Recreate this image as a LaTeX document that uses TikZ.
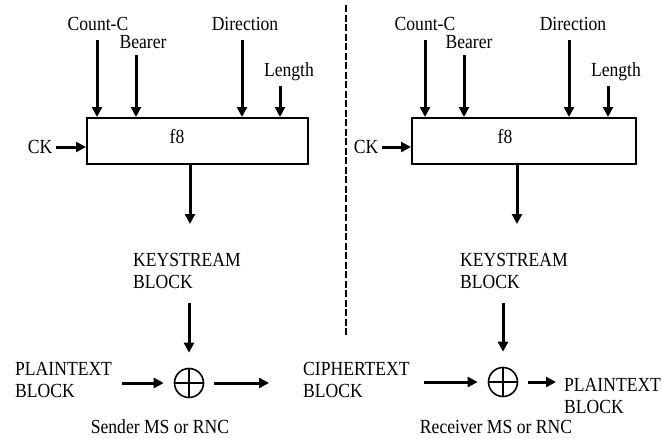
\documentclass[tikz,border=0pt]{standalone}
\usepackage{fontspec}
\setmainfont{Liberation Serif}[FakeStretch=0.88]
\usetikzlibrary{arrows.meta}

\tikzset{
  flow/.style={line width=3pt,-{Triangle[length=10pt,width=10pt]}},
  lbl/.style={inner sep=0pt,align=left},
  fbox/.style={draw,line width=1.6pt,inner sep=0pt,minimum height=46pt,anchor=north west},
  xorop/.style={draw,circle,line width=1.6pt,minimum size=29pt,inner sep=0pt,
    path picture={\draw[line width=1.6pt] (path picture bounding box.north) -- (path picture bounding box.south)
      (path picture bounding box.west) -- (path picture bounding box.east);}}
}

\begin{document}
\begin{tikzpicture}[x=1pt,y=-1pt,font=\fontsize{20}{22}\selectfont]
  \useasboundingbox (0,0) rectangle (662,439);

  % sender side
  \node[fbox,minimum width=221pt] (f8a) at (86,117) {};
  \node[lbl] (f8atxt) at (177,137) {f8};
  \node[lbl] (cca) at (98,24) {Count-C};
  \node[lbl] (bra) at (143,42) {Bearer};
  \node[lbl] (dira) at (245,24) {Direction};
  \node[lbl] (lena) at (289,72) {Length};
  \node[lbl] (cka) at (40,147) {CK};
  \coordinate (ccain) at (97,40);
  \coordinate (brain) at (136,55);
  \coordinate (dirain) at (242,40);
  \coordinate (lenain) at (280,86);
  \draw[flow] (ccain) -- (ccain |- f8a.north);
  \draw[flow] (brain) -- (brain |- f8a.north);
  \draw[flow] (dirain) -- (dirain |- f8a.north);
  \draw[flow] (lenain) -- (lenain |- f8a.north);
  \draw[flow,shorten <=4pt] (cka.east) -- (cka -| f8a.west);
  \coordinate (outa) at (190,163);
  \coordinate (ksatop) at (190,224);
  \draw[flow] (outa) -- (ksatop);
  \node[lbl,anchor=west] (ksa) at (133,271) {KEYSTREAM\\BLOCK};
  \node[xorop] (xora) at (189,383) {};
  \coordinate (ksaout) at (189,303);
  \draw[flow,shorten >=15pt] (ksaout) -- (xora.north);
  \node[lbl,anchor=west] (pta) at (15,380) {PLAINTEXT\\BLOCK};
  \draw[flow,shorten <=10pt,shorten >=10pt] (pta.east |- xora) -- (xora.west);
  \node[lbl,anchor=west] (ct) at (303,380) {CIPHERTEXT\\BLOCK};
  \draw[flow,shorten <=10pt,shorten >=34pt] (xora.east) -- (ct.west |- xora);
  \node[lbl] (snd) at (160,427) {Sender MS or RNC};

  % separator
  \draw[line width=1.5pt,dash pattern=on 7pt off 2.5pt] (346,5) -- (346,335);

  % receiver side
  \node[fbox,minimum width=224pt] (f8b) at (411,117) {};
  \node[lbl] (f8btxt) at (505,137) {f8};
  \node[lbl] (ccb) at (425,24) {Count-C};
  \node[lbl] (brb) at (469,42) {Bearer};
  \node[lbl] (dirb) at (573,24) {Direction};
  \node[lbl] (lenb) at (616,72) {Length};
  \node[lbl] (ckb) at (366,147) {CK};
  \coordinate (ccbin) at (425,40);
  \coordinate (brbin) at (464,55);
  \coordinate (dirbin) at (569,40);
  \coordinate (lenbin) at (608,86);
  \draw[flow] (ccbin) -- (ccbin |- f8b.north);
  \draw[flow] (brbin) -- (brbin |- f8b.north);
  \draw[flow] (dirbin) -- (dirbin |- f8b.north);
  \draw[flow] (lenbin) -- (lenbin |- f8b.north);
  \draw[flow,shorten <=4pt] (ckb.east) -- (ckb -| f8b.west);
  \coordinate (outb) at (517,164);
  \coordinate (ksbtop) at (517,224);
  \draw[flow] (outb) -- (ksbtop);
  \node[lbl,anchor=west] (ksb) at (460,271) {KEYSTREAM\\BLOCK};
  \node[xorop] (xorb) at (503,382) {};
  \coordinate (ksbout) at (503,303);
  \draw[flow,shorten >=15pt] (ksbout) -- (xorb.north);
  \draw[flow,shorten <=14pt,shorten >=10pt] (ct.east |- xorb) -- (xorb.west);
  \node[lbl,anchor=west] (ptb) at (564,396) {PLAINTEXT\\BLOCK};
  \draw[flow,shorten <=10pt,shorten >=8pt] (xorb.east) -- (ptb.west |- xorb);
  \node[lbl] (rcv) at (496,427) {Receiver MS or RNC};
\end{tikzpicture}
\end{document}
